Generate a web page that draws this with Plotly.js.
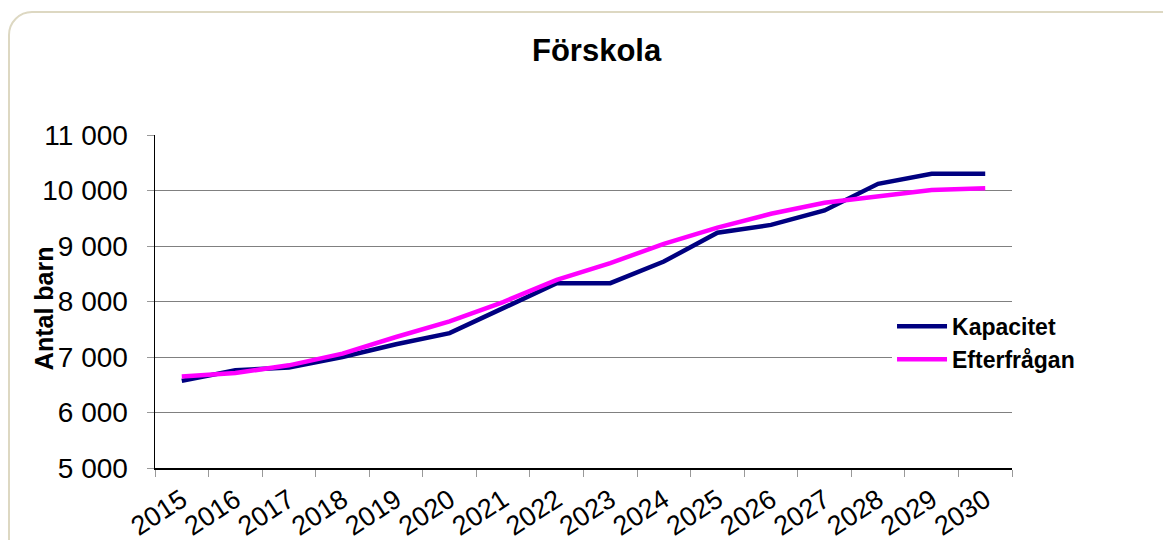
<!DOCTYPE html>
<html>
<head>
<meta charset="utf-8">
<script src="https://cdn.plot.ly/plotly-3.0.1.min.js"></script>
<style>
html,body{margin:0;padding:0;width:1163px;height:540px;overflow:hidden;background:#fff;}
#frame{position:absolute;left:8px;top:11px;width:1220px;height:620px;border:2px solid #ddd8c2;border-radius:24px;box-sizing:border-box;}
#chart{position:absolute;left:0;top:0;width:1163px;height:540px;}
</style>
</head>
<body>
<div id="frame"></div>
<div id="chart"></div>
<script>
var years = ["2015","2016","2017","2018","2019","2020","2021","2022","2023","2024","2025","2026","2027","2028","2029","2030"];
var kapacitet = [6570, 6760, 6810, 7000, 7230, 7430, 7880, 8330, 8330, 8720, 9240, 9380, 9640, 10120, 10300, 10300];
var efterfragan = [6650, 6710, 6850, 7060, 7360, 7640, 7990, 8390, 8690, 9040, 9330, 9580, 9780, 9900, 10010, 10040];
var seriesNames = ["Kapacitet", "Efterfrågan"];
var yTicks = [5000, 6000, 7000, 8000, 9000, 10000, 11000];

var FONT = "Liberation Sans, Arial, sans-serif";

var traces = [
  {x: years, y: kapacitet, name: seriesNames[0], type: "scatter", mode: "lines",
   line: {color: "#000080", width: 4.5}},
  {x: years, y: efterfragan, name: seriesNames[1], type: "scatter", mode: "lines",
   line: {color: "#FF00FF", width: 4.5}}
];

var layout = {
  width: 1163, height: 540,
  margin: {l: 155, r: 151, t: 135, b: 72, pad: 0},
  paper_bgcolor: "rgba(0,0,0,0)",
  plot_bgcolor: "rgba(0,0,0,0)",
  separators: ", ",
  font: {family: FONT, color: "#000"},
  title: {text: "<b>Förskola</b>", font: {family: FONT, size: 31, color: "#000"},
          x: 0.513, xref: "container", xanchor: "center", y: 0.907, yref: "container", yanchor: "middle"},
  showlegend: true,
  legend: {x: 0.86, xanchor: "left", y: 0.49, yanchor: "top", bgcolor: "#ffffff",
           font: {family: FONT, size: 23, color: "#000", weight: "bold"},
           itemwidth: 50, tracegroupgap: 0},
  xaxis: {type: "category", range: [-0.5, 15.5], tickson: "boundaries", ticks: "outside", ticklen: 7, tickcolor: "#999",
          showline: true, linecolor: "#000", linewidth: 1.5, showgrid: false, zeroline: false,
          tickangle: -33, ticklabelstandoff: 4, tickfont: {family: FONT, size: 27, color: "#000"}, fixedrange: true},
  yaxis: {range: [5000, 11000], tickvals: yTicks, tickformat: ",d", ticks: "outside", ticklen: 7, tickcolor: "#999",
          showline: true, linecolor: "#000", linewidth: 1.5, showgrid: true, gridcolor: "#808080", gridwidth: 1,
          zeroline: false, tickfont: {family: FONT, size: 28, color: "#000"}, ticklabelstandoff: 13, fixedrange: true},
  annotations: [
    {text: "<b>Antal barn</b>", textangle: -90, xref: "paper", yref: "paper", x: -0.1295, y: 0.48,
     xanchor: "center", yanchor: "middle", showarrow: false, font: {family: FONT, size: 25, color: "#000"}}
  ]
};

Plotly.newPlot("chart", traces, layout, {displayModeBar: false, staticPlot: true});
</script>
</body>
</html>
